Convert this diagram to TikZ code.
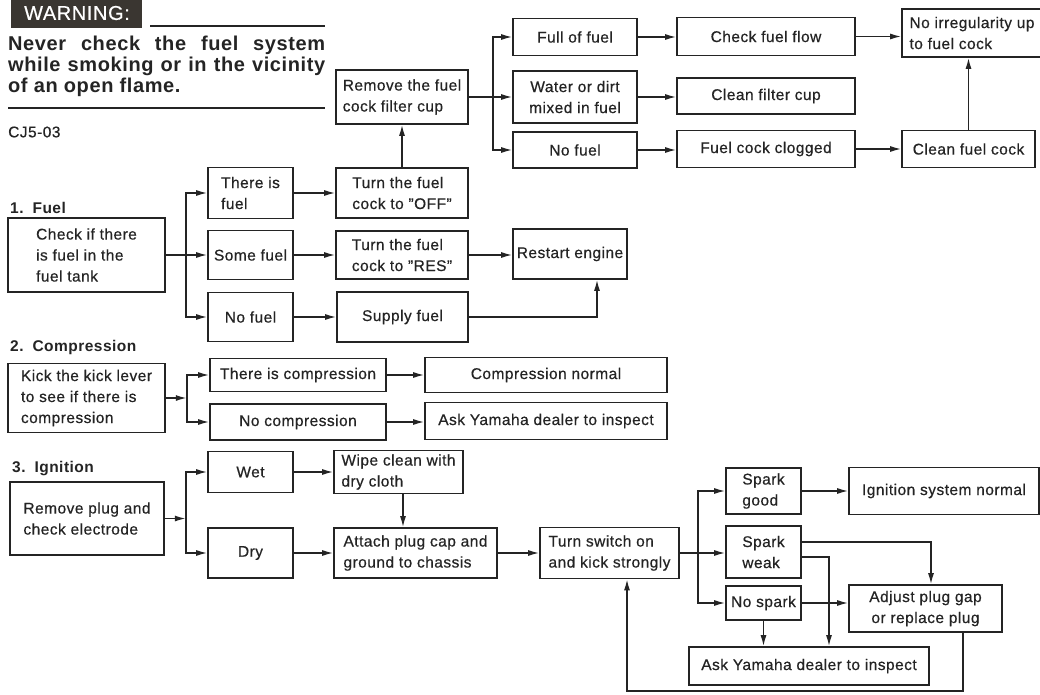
\documentclass[tikz,border=0pt]{standalone}
\usepackage{fontspec}
\setmainfont{Liberation Sans}[LetterSpace=3,UprightFeatures={FakeBold=0.5}]
\usetikzlibrary{arrows.meta}
\definecolor{ink}{HTML}{242424}
\definecolor{tag}{HTML}{3A3631}
\begin{document}
\begin{tikzpicture}[x=1pt,y=-1pt,
  box/.style={draw=ink,line width=1.6pt,inner sep=2pt,align=center,text=ink,
    font=\fontsize{15.5}{21}\selectfont},
  lbox/.style={box,align=left},
  arr/.style={draw=ink,line width=1.5pt,-{Latex[length=11pt,width=6pt]}},
  head/.style={anchor=west,inner sep=0,text=ink,font=\bfseries\fontsize{15.5}{21}\selectfont},
  rule/.style={draw=ink,line width=2pt}]
\useasboundingbox (0,0) rectangle (1040,694);
\fill[white] (0,0) rectangle (1040,694);

\fill[tag] (11,-5) rectangle (142,28);
\node[text=white,font=\fontsize{20}{21}\selectfont] (warn) at (77,13) {WARNING:};
\draw[rule] (150,26) -- (325,26);
\node[anchor=north west,inner sep=0,align=left,text=ink,
  font=\bfseries\fontsize{20}{21}\selectfont] (never) at (8,36)
  {\makebox[317pt][s]{Never check the fuel system}\\
   \makebox[317pt][s]{while smoking or in the vicinity}\\
   of an open flame.};
\draw[rule] (8,108) -- (325,108);
\node[head,font=\fontsize{15.5}{21}\selectfont] (code) at (8,132) {CJ5-03};

\node[head] (fuelhd) at (10,208) {1.\hspace{9pt}Fuel};
\node[lbox,minimum width=157,minimum height=74] (chk) at (86.5,255) {Check if there\\is fuel in the\\fuel tank};
\node[lbox,minimum width=85,minimum height=51] (thereis) at (250.5,193) {There is\\fuel};
\node[box,minimum width=85,minimum height=49] (some) at (250.5,255) {Some fuel};
\node[box,minimum width=85,minimum height=49] (nofuel) at (250.5,317) {No fuel};
\node[lbox,minimum width=132,minimum height=50] (off) at (402,193) {Turn the fuel\\cock to ''OFF''};
\node[lbox,minimum width=132,minimum height=48] (res) at (402,255) {Turn the fuel\\cock to ''RES''};
\node[box,minimum width=131,minimum height=50] (supply) at (402.5,317) {Supply fuel};
\node[box,minimum width=114,minimum height=50] (restart) at (570,254) {Restart engine};

\node[lbox,minimum width=132,minimum height=54] (filter) at (402,97) {Remove the fuel\\cock filter cup};
\node[box,minimum width=124,minimum height=37] (full) at (575,37) {Full of fuel};
\node[box,minimum width=124,minimum height=52] (water) at (575,97) {Water or dirt\\mixed in fuel};
\node[box,minimum width=124,minimum height=36] (nofuelb) at (575,150) {No fuel};
\node[box,minimum width=178,minimum height=38] (flow) at (766,36.5) {Check fuel flow};
\node[box,minimum width=178,minimum height=36] (cleancup) at (766,96) {Clean filter cup};
\node[box,minimum width=178,minimum height=37] (clogged) at (766,149) {Fuel cock clogged};
\node[lbox,minimum width=140,minimum height=48] (noirreg) at (972,33) {No irregularity up\\to fuel cock};
\node[box,minimum width=133,minimum height=37] (cleancock) at (968.5,149) {Clean fuel cock};

\draw[arr] (chk.east) -- (some.west);
\draw[arr] (chk.east) ++(20,0) |- (thereis.west);
\draw[arr] (chk.east) ++(20,0) |- (nofuel.west);
\draw[arr] (thereis) -- (off);
\draw[arr] (some) -- (res);
\draw[arr] (nofuel) -- (supply);
\draw[arr] (res.east) -- (res.east -| restart.west);
\draw[arr] (supply.east) -| ([xshift=27pt]restart.south);
\draw[arr] (off) -- (filter);
\draw[arr] (filter) -- (water);
\draw[arr] (filter.east) ++(24,0) |- (full.west);
\draw[arr] (filter.east) ++(24,0) |- (nofuelb.west);
\draw[arr] (full.east) -- (full.east -| flow.west);
\draw[arr] (water.east) -- (water.east -| cleancup.west);
\draw[arr] (nofuelb.east) -- (nofuelb.east -| clogged.west);
\draw[arr] (flow.east) -- (flow.east -| noirreg.west);
\draw[arr] (clogged) -- (cleancock);
\draw[arr] (cleancock) -- (cleancock |- noirreg.south);

\node[head] (comphd) at (10,347) {2.\hspace{9pt}Compression};
\node[lbox,minimum width=157,minimum height=69] (kick) at (86.5,398) {Kick the kick lever\\to see if there is\\compression};
\node[box,minimum width=176,minimum height=33] (yescomp) at (298,375) {There is compression};
\node[box,minimum width=176,minimum height=36] (nocomp) at (298,422) {No compression};
\node[box,minimum width=242,minimum height=35] (compok) at (546,375) {Compression normal};
\node[box,minimum width=242,minimum height=37] (askcomp) at (546,421) {Ask Yamaha dealer to inspect};

\draw[arr] (kick.east) -- ++(21,0);
\draw[arr] (kick.east) ++(21,0) |- (yescomp.west);
\draw[arr] (kick.east) ++(21,0) |- (nocomp.west);
\draw[arr] (yescomp) -- (compok);
\draw[arr] (nocomp.east) -- (nocomp.east -| askcomp.west);

\node[head] (ignhd) at (12,469) {3.\hspace{9pt}Ignition};
\node[lbox,minimum width=154,minimum height=73] (plug) at (87,518.5) {Remove plug and\\check electrode};
\node[box,minimum width=85,minimum height=41] (wet) at (250.5,472) {Wet};
\node[box,minimum width=85,minimum height=50] (dry) at (250.5,553) {Dry};
\node[lbox,minimum width=129,minimum height=43] (wipe) at (398.5,472) {Wipe clean with\\dry cloth};
\node[lbox,minimum width=163,minimum height=50] (attach) at (415.5,553) {Attach plug cap and\\ground to chassis};
\node[lbox,minimum width=139,minimum height=51] (switch) at (609.5,553) {Turn switch on\\and kick strongly};
\node[lbox,minimum width=75,minimum height=46] (good) at (763.5,491) {Spark\\good};
\node[lbox,minimum width=75,minimum height=52] (weak) at (763.5,552) {Spark\\weak};
\node[box,minimum width=75,minimum height=34] (nospark) at (763.5,603) {No spark};
\node[box,minimum width=190,minimum height=47] (ignok) at (944,491) {Ignition system normal};
\node[box,minimum width=153,minimum height=47] (adjust) at (925.5,608.5) {Adjust plug gap\\or replace plug};
\node[box,minimum width=240,minimum height=38] (askign) at (809,666) {Ask Yamaha dealer to inspect};

\draw[arr] (plug.east) -- ++(21,0);
\draw[arr] (plug.east) ++(21,0) |- (wet.west);
\draw[arr] (plug.east) ++(21,0) |- (dry.west);
\draw[arr] (wet) -- (wipe);
\coordinate (wa) at ([xshift=4.5pt]wipe.south);
\draw[arr] (wa) -- (wa |- attach.north);
\draw[arr] (dry) -- (attach);
\draw[arr] (attach) -- (switch);
\draw[arr] (switch.east) -- (switch.east -| weak.west);
\draw[arr] (switch.east) ++(18,0) |- (good.west);
\draw[arr] (switch.east) ++(18,0) |- (nospark.west);
\draw[arr] (good) -- (ignok);
\draw[arr] ([yshift=10pt]weak.east) -| ([xshift=5.5pt]adjust.north);
\draw[arr] ([yshift=-5pt]weak.east) -| ([xshift=20pt]askign.north);
\draw[arr] (nospark.east) -- (nospark.east -| adjust.west);
\draw[arr] (nospark) -- (nospark |- askign.north);
\coordinate (lp) at ([xshift=37.5pt]adjust.south);
\draw[arr] (lp) -- ++(0,58) -| ([xshift=17.5pt]switch.south);
\end{tikzpicture}
\end{document}
